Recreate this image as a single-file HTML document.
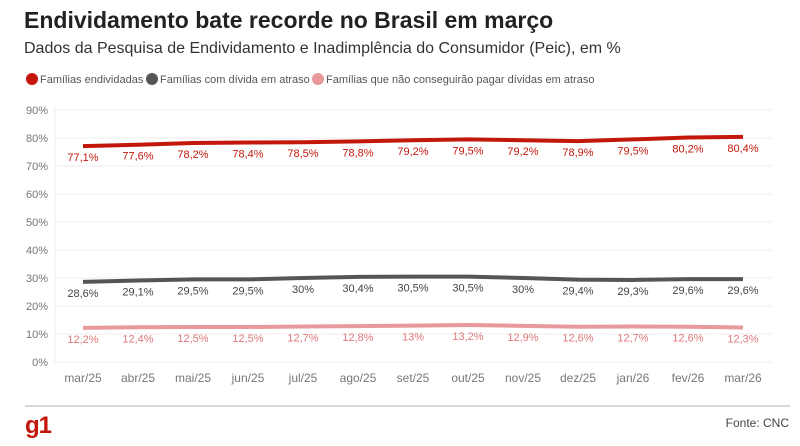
<!DOCTYPE html>
<html><head><meta charset="utf-8"><style>
body{margin:0;background:#fff;font-family:"Liberation Sans",sans-serif;}
</style></head><body>
<svg width="800" height="441" xmlns="http://www.w3.org/2000/svg" font-family="Liberation Sans, sans-serif">
<text x="24" y="28" font-size="23" font-weight="bold" fill="#222">Endividamento bate recorde no Brasil em março</text>
<text x="24" y="53" font-size="16" fill="#333">Dados da Pesquisa de Endividamento e Inadimplência do Consumidor (Peic), em %</text>
<g font-size="11" fill="#555">
<circle cx="32" cy="79" r="6" fill="#c4170c"/><text x="40" y="83">Famílias endividadas</text>
<circle cx="152" cy="79" r="6" fill="#555"/><text x="160" y="83">Famílias com dívida em atraso</text>
<circle cx="318" cy="79" r="6" fill="#e8999b"/><text x="326" y="83">Famílias que não conseguirão pagar dívidas em atraso</text>
</g>
<g id="grid"></g>
<g id="series"></g>
<line x1="25" y1="406" x2="790" y2="406" stroke="#ccc" stroke-width="1.5"/>
<text x="25" y="433" font-size="24" font-weight="bold" fill="#c4170c" letter-spacing="-1">g1</text>
<text x="789" y="427" font-size="12" fill="#444" text-anchor="end">Fonte: CNC</text>
</svg>
<script>
const NS="http://www.w3.org/2000/svg";
function el(t,a,txt){const e=document.createElementNS(NS,t);for(const k in a)e.setAttribute(k,a[k]);if(txt!=null)e.textContent=txt;return e;}
const g=document.getElementById('grid'),s=document.getElementById('series');
const Y=v=>362-v*2.8, X=i=>83+i*55;
for(let v=0;v<=90;v+=10){g.appendChild(el('line',{x1:55,x2:772,y1:Y(v),y2:Y(v),stroke:'#eee'}));
g.appendChild(el('text',{x:48,y:Y(v)+4,'font-size':11,fill:'#777','text-anchor':'end'},v+'%'));}
g.appendChild(el('line',{x1:55,x2:55,y1:106,y2:362,stroke:'#eee'}));
const m=['mar/25','abr/25','mai/25','jun/25','jul/25','ago/25','set/25','out/25','nov/25','dez/25','jan/26','fev/26','mar/26'];
m.forEach((t,i)=>g.appendChild(el('text',{x:X(i),y:382,'font-size':12,fill:'#777','text-anchor':'middle'},t)));
const data=[[[77.1,77.6,78.2,78.4,78.5,78.8,79.2,79.5,79.2,78.9,79.5,80.2,80.4],'#c4170c','#c4170c'],
[[28.6,29.1,29.5,29.5,30,30.4,30.5,30.5,30,29.4,29.3,29.6,29.6],'#555','#444'],
[[12.2,12.4,12.5,12.5,12.7,12.8,13,13.2,12.9,12.6,12.7,12.6,12.3],'#e8999b','#e0797c']];
data.forEach(([d,c,tc])=>{
s.appendChild(el('polyline',{points:d.map((v,i)=>X(i)+','+Y(v)).join(' '),fill:'none',stroke:c,'stroke-width':4,'stroke-linejoin':'round'}));
d.forEach((v,i)=>s.appendChild(el('text',{x:X(i),y:Y(v)+15,'font-size':11,fill:tc,'text-anchor':'middle'},String(v).replace('.',',')+'%')));
});
</script>
</body></html>
